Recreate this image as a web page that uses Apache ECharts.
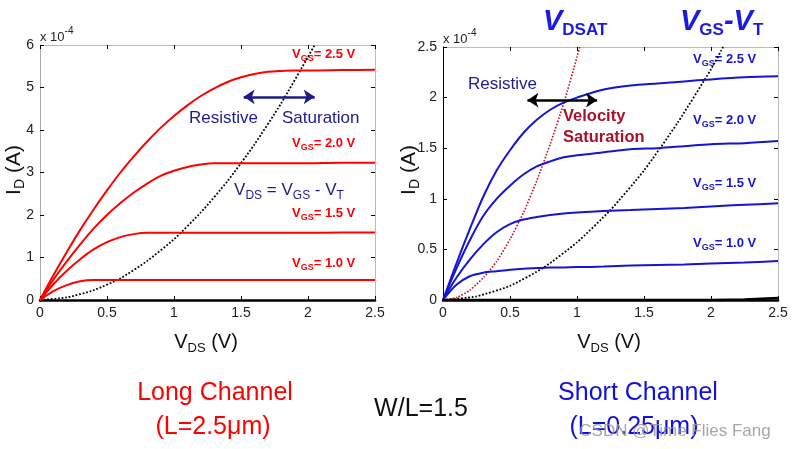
<!DOCTYPE html>
<html><head><meta charset="utf-8">
<script src="https://cdn.jsdelivr.net/npm/echarts@6/dist/echarts.min.js"></script>
<style>html,body{margin:0;padding:0;background:#fff}#c{width:795px;height:449px}</style>
</head><body><div id="c"></div><script>
// ---------- Long channel (left) ----------
const xTicks = ['0','0.5','1','1.5','2','2.5'];
const vdsLong = [0,0.1,0.2,0.3,0.4,0.5,0.6,0.7,0.8,0.9,1.0,1.1,1.2,1.3,1.4,1.5,1.6,1.7,1.8,1.9,2.0,2.25,2.5];
const long25 = [0,0.58,1.13,1.65,2.13,2.58,3.0,3.38,3.73,4.05,4.33,4.58,4.8,4.98,5.13,5.24,5.32,5.37,5.39,5.4,5.4,5.41,5.42];
const long20 = [0,0.48,0.91,1.31,1.68,2.0,2.28,2.53,2.74,2.92,3.04,3.13,3.19,3.22,3.22,3.22,3.22,3.22,3.22,3.22,3.22,3.23,3.23];
const long15 = [0,0.37,0.69,0.96,1.19,1.36,1.48,1.55,1.58,1.58,1.58,1.58,1.58,1.58,1.58,1.58,1.58,1.58,1.58,1.58,1.58,1.59,1.59];
const long10 = [0,0.21,0.35,0.44,0.47,0.47,0.47,0.47,0.47,0.47,0.47,0.47,0.47,0.47,0.47,0.47,0.47,0.47,0.47,0.47,0.47,0.47,0.47];
const vdsLongSat = [0,0.2,0.4,0.6,0.8,1.0,1.2,1.4,1.6,1.8,2.0,2.05];
const longSat = [0,0.06,0.23,0.51,0.92,1.43,2.06,2.8,3.66,4.63,5.72,6.0];
// ---------- Short channel (right) ----------
const vdsShort = [0,0.1,0.2,0.3,0.4,0.5,0.6,0.7,0.8,0.9,1.0,1.2,1.4,1.6,1.8,2.0,2.25,2.5];
const short25 = [0,0.36,0.70,1.02,1.28,1.48,1.65,1.78,1.88,1.95,2.0,2.08,2.12,2.14,2.16,2.18,2.2,2.21];
const short20 = [0,0.31,0.59,0.83,1.0,1.13,1.24,1.32,1.37,1.41,1.43,1.46,1.49,1.5,1.52,1.54,1.55,1.57];
const short15 = [0,0.22,0.40,0.55,0.67,0.75,0.795,0.82,0.84,0.855,0.865,0.88,0.89,0.9,0.91,0.925,0.94,0.955];
const short10 = [0,0.15,0.235,0.27,0.285,0.3,0.31,0.315,0.32,0.322,0.325,0.33,0.34,0.345,0.35,0.36,0.37,0.385];
const short05 = [0,0,0,0,0,0,0,0,0,0,0,0,0,0,0,0,0.005,0.02];
const vdsDsat = [0,0.1,0.2,0.3,0.4,0.5,0.6,0.7,0.8,0.9,1.0,1.02];
const shortDsat = [0,0.024,0.096,0.22,0.38,0.6,0.86,1.18,1.54,1.94,2.4,2.5];
const vdsOv = [0,0.25,0.5,0.75,1.0,1.25,1.5,1.75,2.0,2.09];
const shortOv = [0,0.036,0.14,0.32,0.57,0.89,1.28,1.75,2.28,2.5];

const zip = (xs, ys) => xs.map((x, i) => [x, ys[i]]);
const FONT = '"Liberation Sans", Arial, sans-serif';
const RED = '#ff0000', BLUE = '#1414d4', NAVY = '#1c1c8c', DRED = '#a8102c';

function axesFor(g, yMax, yInt, leftColor) {
  const lbl = {fontFamily: FONT, fontSize: 14, color: '#222'};
  return {
    x: [
      {gridIndex: g, type: 'value', min: 0, max: 2.5, interval: 0.5, position: 'bottom',
       axisLine: {onZero: false, lineStyle: {color: '#000', width: 2.5}},
       axisTick: {inside: true, length: 4, lineStyle: {color: '#000'}},
       axisLabel: Object.assign({margin: 6, formatter: v => xTicks[Math.round(v / 0.5)]}, lbl),
       splitLine: {show: false}},
      {gridIndex: g, type: 'value', min: 0, max: 2.5, interval: 0.5, position: 'top',
       axisLine: {onZero: false, lineStyle: {color: '#bbb', width: 1}},
       axisTick: {inside: true, length: 4, lineStyle: {color: '#000'}},
       axisLabel: {show: false}, splitLine: {show: false}}
    ],
    y: [
      {gridIndex: g, type: 'value', min: 0, max: yMax, interval: yInt, position: 'left',
       axisLine: {show: true, onZero: false, lineStyle: {color: leftColor, width: 1}},
       axisTick: {show: true, inside: true, length: 4, lineStyle: {color: '#000'}},
       axisLabel: Object.assign({margin: 6}, lbl), splitLine: {show: false}},
      {gridIndex: g, type: 'value', min: 0, max: yMax, interval: yInt, position: 'right',
       axisLine: {show: true, onZero: false, lineStyle: {color: '#bbb', width: 1}},
       axisTick: {show: true, inside: true, length: 4, lineStyle: {color: '#000'}},
       axisLabel: {show: false}, splitLine: {show: false}}
    ]
  };
}
const A0 = axesFor(0, 6, 1, '#aaa');
const A1 = axesFor(1, 2.5, 0.5, '#000');

function line(xi, yi, data, color, width, type, extra) {
  return Object.assign({type: 'line', xAxisIndex: xi, yAxisIndex: yi, data: data, showSymbol: false,
    symbol: 'none', smooth: 0.3, silent: true, animation: false, clip: true,
    lineStyle: {color: color, width: width, type: type || 'solid'}}, extra || {});
}

function arrow(xi, yi, x1, x2, y, color) {
  return {type: 'line', xAxisIndex: xi, yAxisIndex: yi, data: [], silent: true, animation: false,
    markLine: {silent: true, animation: false, symbol: ['arrow', 'arrow'], symbolSize: [11, 11],
      label: {show: false}, lineStyle: {color: color, width: 2.5, type: 'solid'},
      data: [[{coord: [x1, y]}, {coord: [x2, y]}]]}};
}

function vgsLabel(x, y, val, color) {
  return {type: 'text', left: x, top: y, silent: true,
    style: {text: '{v|V}{s|GS}{n|= ' + val + ' V}', fill: color, font: 'bold 13px ' + FONT,
      rich: {v: {fontFamily: FONT, fontWeight: 'bold', fontSize: 13, fill: color, lineHeight: 18, verticalAlign: 'middle'},
             s: {fontFamily: FONT, fontWeight: 'bold', fontSize: 9, fill: color, lineHeight: 18, verticalAlign: 'bottom'},
             n: {fontFamily: FONT, fontWeight: 'bold', fontSize: 13, fill: color, lineHeight: 18, verticalAlign: 'middle'}}}};
}
function plain(x, y, txt, size, color, weight, align) {
  return {type: 'text', x: x, y: y, silent: true,
    style: {text: txt, fill: color, font: (weight || 'normal') + ' ' + size + 'px ' + FONT,
      textAlign: align || 'left', textVerticalAlign: 'middle'}};
}
function subText(x, y, parts, size, subSize, color, rotation) {
  let txt = '';
  parts.forEach(p => { txt += '{' + (p[1] ? 's' : 'm') + '|' + p[0] + '}'; });
  return {type: 'text', x: x, y: y, silent: true, rotation: rotation || 0,
    style: {text: txt, fill: color, font: size + 'px ' + FONT, textAlign: 'center', textVerticalAlign: 'middle',
      rich: {m: {fontFamily: FONT, fontSize: size, fill: color, lineHeight: size + 6, verticalAlign: 'middle'},
             s: {fontFamily: FONT, fontSize: subSize, fill: color, lineHeight: size + 6, verticalAlign: 'bottom'}}}};
}
function expLabel(x, y) {
  return {type: 'text', left: x, top: y, silent: true,
    style: {text: '{a|x 10}{b|-4}', fill: '#222', font: '13px ' + FONT,
      rich: {a: {fontFamily: FONT, fontSize: 13, fill: '#222', lineHeight: 18, verticalAlign: 'bottom'},
             b: {fontFamily: FONT, fontSize: 10, fill: '#222', lineHeight: 18, verticalAlign: 'top'}}}};
}
function bigSub(x, y, parts, color) {
  let txt = '';
  parts.forEach(p => { txt += '{' + (p[1] ? 's' : 'm') + '|' + p[0] + '}'; });
  return {type: 'text', left: x, top: y, silent: true,
    style: {text: txt, fill: color, font: 'italic bold 29px ' + FONT,
      rich: {m: {fontFamily: FONT, fontStyle: 'italic', fontWeight: 'bold', fontSize: 29, fill: color, lineHeight: 34, verticalAlign: 'middle'},
             s: {fontFamily: FONT, fontWeight: 'bold', fontSize: 17, fill: color, lineHeight: 34, verticalAlign: 'bottom'}}}};
}

const chart = echarts.init(document.getElementById('c'), null, {renderer: 'canvas'});
chart.setOption({
  backgroundColor: '#fff',
  animation: false,
  grid: [{left: 40, top: 45, width: 335, height: 255}, {left: 443, top: 47, width: 335, height: 253}],
  xAxis: A0.x.concat(A1.x),
  yAxis: A0.y.concat(A1.y),
  series: [
    line(0, 0, zip(vdsLongSat, longSat), '#000', 1.8, 'dotted', {smooth: 0.2}),
    line(0, 0, zip(vdsLong, long25), RED, 2),
    line(0, 0, zip(vdsLong, long20), RED, 2),
    line(0, 0, zip(vdsLong, long15), RED, 2),
    line(0, 0, zip(vdsLong, long10), RED, 2),
    arrow(0, 0, 1.52, 2.05, 4.78, NAVY),
    line(2, 2, zip(vdsOv, shortOv), '#000', 1.8, 'dotted', {smooth: 0.2}),
    line(2, 2, zip(vdsDsat, shortDsat), '#c0102c', 1.6, 'dotted', {smooth: 0.2}),
    line(2, 2, zip(vdsShort, short25), BLUE, 2),
    line(2, 2, zip(vdsShort, short20), BLUE, 2),
    line(2, 2, zip(vdsShort, short15), BLUE, 2),
    line(2, 2, zip(vdsShort, short10), BLUE, 2),
    line(2, 2, zip(vdsShort, short05), '#000', 2.5, 'solid', {smooth: false}),
    arrow(2, 2, 0.63, 1.15, 1.975, '#000')
  ],
  graphic: [
    expLabel(40, 26), expLabel(443, 28),
    subText(14, 170, [['I', 0], ['D', 1], [' (A)', 0]], 21, 14, '#111', Math.PI / 2),
    subText(409, 170, [['I', 0], ['D', 1], [' (A)', 0]], 21, 14, '#111', Math.PI / 2),
    subText(206, 342, [['V', 0], ['DS', 1], [' (V)', 0]], 20, 13, '#111'),
    subText(609, 342, [['V', 0], ['DS', 1], [' (V)', 0]], 20, 13, '#111'),
    vgsLabel(292, 48, '2.5', RED), vgsLabel(292, 137, '2.0', RED),
    vgsLabel(292, 207, '1.5', RED), vgsLabel(292, 257, '1.0', RED),
    plain(189, 118, 'Resistive', 17, NAVY), plain(282, 118, 'Saturation', 17, NAVY),
    subText(289, 190, [['V', 0], ['DS', 1], [' = V', 0], ['GS', 1], [' - V', 0], ['T', 1]], 17, 12, NAVY),
    vgsLabel(693, 53, '2.5', BLUE), vgsLabel(693, 114, '2.0', BLUE),
    vgsLabel(693, 177, '1.5', BLUE), vgsLabel(693, 237, '1.0', BLUE),
    plain(468, 84, 'Resistive', 17, NAVY),
    plain(563, 116, 'Velocity', 16.5, DRED, 'bold'), plain(563, 137, 'Saturation', 16.5, DRED, 'bold'),
    bigSub(543, 7, [['V', 0], ['DSAT', 1]], '#1a1ae0'),
    bigSub(680, 7, [['V', 0], ['GS', 1], ['-V', 0], ['T', 1]], '#1a1ae0'),
    plain(215, 393, 'Long Channel', 25, RED, 'normal', 'center'),
    plain(213, 427, '(L=2.5\u03bcm)', 25, RED, 'normal', 'center'),
    plain(421, 409, 'W/L=1.5', 25, '#111', 'normal', 'center'),
    plain(638, 393, 'Short Channel', 25, '#1010e0', 'normal', 'center'),
    plain(634, 427, '(L=0.25\u03bcm)', 25, '#1010e0', 'normal', 'center'),
    plain(675, 431, 'CSDN @Time Flies Fang', 17, 'rgba(150,150,150,0.85)', 'normal', 'center')
  ]
});
</script></body></html>
